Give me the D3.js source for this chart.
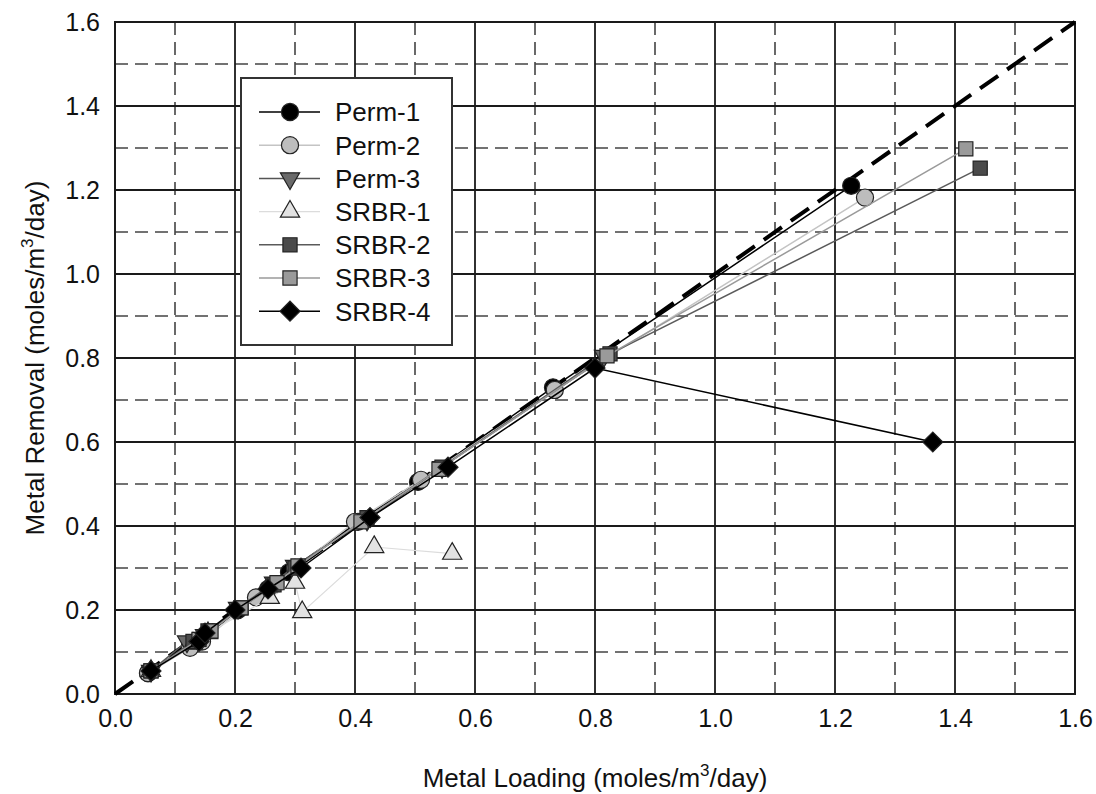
<!DOCTYPE html>
<html>
<head>
<meta charset="utf-8">
<script src="https://cdn.jsdelivr.net/npm/d3@7"></script>
<style>
  body { margin: 0; background: #fff; }
  svg { font-family: "Liberation Sans", Arial, sans-serif; }
</style>
</head>
<body>
<div id="chart"></div>
<script>
// Series data: [metal loading, metal removal]
const perm1 = [[0.055,0.05],[0.125,0.115],[0.145,0.13],[0.205,0.2],[0.255,0.25],[0.29,0.29],[0.405,0.41],[0.505,0.505],[0.73,0.73],[1.227,1.21]];
const perm2 = [[0.055,0.05],[0.125,0.11],[0.145,0.125],[0.235,0.23],[0.26,0.255],[0.3,0.3],[0.4,0.41],[0.51,0.51],[0.733,0.724],[1.25,1.182]];
const perm3 = [[0.06,0.055],[0.12,0.125],[0.15,0.14],[0.205,0.205],[0.265,0.265],[0.3,0.305],[0.42,0.415],[0.545,0.54],[0.815,0.805]];
const srbr1 = [[0.06,0.055],[0.13,0.12],[0.155,0.145],[0.258,0.229],[0.3,0.265],[0.312,0.195],[0.432,0.35],[0.562,0.334]];
const srbr2 = [[0.06,0.055],[0.13,0.125],[0.155,0.15],[0.21,0.205],[0.265,0.26],[0.3,0.3],[0.42,0.42],[0.545,0.54],[0.825,0.81],[1.442,1.252]];
const srbr3 = [[0.06,0.055],[0.14,0.13],[0.16,0.15],[0.21,0.205],[0.27,0.265],[0.305,0.305],[0.41,0.41],[0.54,0.535],[0.82,0.805],[1.418,1.298]];
const srbr4 = [[0.06,0.055],[0.14,0.125],[0.15,0.145],[0.2,0.2],[0.255,0.25],[0.31,0.3],[0.425,0.42],[0.555,0.54],[0.8,0.776],[1.363,0.6]];

const seriesNames = ['Perm-1','Perm-2','Perm-3','SRBR-1','SRBR-2','SRBR-3','SRBR-4'];
const seriesData = [perm1, perm2, perm3, srbr1, srbr2, srbr3, srbr4];
const tickValues = [0, 0.2, 0.4, 0.6, 0.8, 1.0, 1.2, 1.4, 1.6];
const minorValues = [0.1, 0.3, 0.5, 0.7, 0.9, 1.1, 1.3, 1.5];

// marker styles per series
const styles = [
  { sym: d3.symbolCircle, size: 230, fill: '#000', line: '#000', lw: 1.5, rot: 0 },
  { sym: d3.symbolCircle, size: 230, fill: '#bdbdbd', line: '#c4c4c4', lw: 1.5, rot: 0 },
  { sym: d3.symbolTriangle, size: 160, fill: '#6a6a6a', line: '#555', lw: 1.5, rot: 180 },
  { sym: d3.symbolTriangle, size: 160, fill: '#e2e2e2', line: '#dcdcdc', lw: 1.2, rot: 0 },
  { sym: d3.symbolSquare, size: 200, fill: '#4a4a4a', line: '#5a5a5a', lw: 1.5, rot: 0 },
  { sym: d3.symbolSquare, size: 200, fill: '#9a9a9a', line: '#9a9a9a', lw: 1.5, rot: 0 },
  { sym: d3.symbolSquare, size: 200, fill: '#000', line: '#000', lw: 1.5, rot: 45 }
];

const W = 1096, H = 794;
const margin = { top: 22, right: 21, bottom: 100, left: 115 };
const width = W - margin.left - margin.right;
const height = H - margin.top - margin.bottom;
const fontFamily = '"Liberation Sans", Arial, sans-serif';

const svg = d3.select('#chart').append('svg')
  .attr('width', W).attr('height', H);
const g = svg.append('g')
  .attr('transform', `translate(${margin.left},${margin.top})`);

const x = d3.scaleLinear().domain([0, 1.6]).range([0, width]);
const y = d3.scaleLinear().domain([0, 1.6]).range([height, 0]);

// minor dashed gridlines
g.selectAll('.vminor').data(minorValues).enter().append('line')
  .attr('x1', d => x(d)).attr('x2', d => x(d))
  .attr('y1', 0).attr('y2', height)
  .attr('stroke', '#444').attr('stroke-width', 1.6)
  .attr('stroke-dasharray', '13,7');
g.selectAll('.hminor').data(minorValues).enter().append('line')
  .attr('y1', d => y(d)).attr('y2', d => y(d))
  .attr('x1', 0).attr('x2', width)
  .attr('stroke', '#444').attr('stroke-width', 1.6)
  .attr('stroke-dasharray', '13,7');

// major solid gridlines
g.selectAll('.vmajor').data(tickValues).enter().append('line')
  .attr('x1', d => x(d)).attr('x2', d => x(d))
  .attr('y1', 0).attr('y2', height)
  .attr('stroke', '#1a1a1a').attr('stroke-width', 1.8);
g.selectAll('.hmajor').data(tickValues).enter().append('line')
  .attr('y1', d => y(d)).attr('y2', d => y(d))
  .attr('x1', 0).attr('x2', width)
  .attr('stroke', '#1a1a1a').attr('stroke-width', 1.8);

// plot frame
g.append('rect').attr('width', width).attr('height', height)
  .attr('fill', 'none').attr('stroke', '#1a1a1a').attr('stroke-width', 2);

// 1:1 line
g.append('line')
  .attr('x1', x(0)).attr('y1', y(0)).attr('x2', x(1.6)).attr('y2', y(1.6))
  .attr('stroke', '#000').attr('stroke-width', 4)
  .attr('stroke-dasharray', '22,11');

// axes tick labels
const xAxis = d3.axisBottom(x).tickValues(tickValues).tickFormat(d3.format('.1f')).tickSize(0).tickPadding(15);
const yAxis = d3.axisLeft(y).tickValues(tickValues).tickFormat(d3.format('.1f')).tickSize(0).tickPadding(15);
const gx = g.append('g').attr('transform', `translate(0,${height})`).call(xAxis);
const gy = g.append('g').call(yAxis);
[gx, gy].forEach(a => {
  a.select('.domain').remove();
  a.selectAll('text').attr('font-size', 25).attr('fill', '#111')
    .attr('font-family', fontFamily);
});

// series
const line = d3.line().x(d => x(d[0])).y(d => y(d[1]));
seriesData.forEach((data, i) => {
  const st = styles[i];
  const sg = g.append('g');
  sg.append('path').datum(data).attr('d', line)
    .attr('fill', 'none').attr('stroke', st.line).attr('stroke-width', st.lw);
  sg.selectAll('path.pt').data(data).enter().append('path')
    .attr('class', 'pt')
    .attr('d', d3.symbol().type(st.sym).size(st.size))
    .attr('transform', d => `translate(${x(d[0])},${y(d[1])}) rotate(${st.rot})`)
    .attr('fill', st.fill).attr('stroke', '#222').attr('stroke-width', 1.2);
});

// legend
const lg = svg.append('g').attr('transform', 'translate(241,78)');
lg.append('rect').attr('width', 211).attr('height', 267)
  .attr('fill', '#fff').attr('stroke', '#333').attr('stroke-width', 2);
seriesNames.forEach((name, i) => {
  const st = styles[i];
  const cy = 34 + i * 33.2;
  lg.append('line').attr('x1', 18).attr('x2', 79).attr('y1', cy).attr('y2', cy)
    .attr('stroke', st.line).attr('stroke-width', st.lw);
  lg.append('path')
    .attr('d', d3.symbol().type(st.sym).size(st.size))
    .attr('transform', `translate(49,${cy}) rotate(${st.rot})`)
    .attr('fill', st.fill).attr('stroke', '#222').attr('stroke-width', 1.2);
  lg.append('text').attr('x', 94).attr('y', cy).attr('dy', '0.36em')
    .attr('font-size', 26).attr('fill', '#111').text(name);
});

// axis titles
const xt = svg.append('text')
  .attr('x', margin.left + width / 2).attr('y', 787)
  .attr('text-anchor', 'middle').attr('font-size', 26).attr('fill', '#111');
xt.append('tspan').text('Metal Loading (moles/m');
xt.append('tspan').attr('font-size', 17).attr('dy', -11).text('3');
xt.append('tspan').attr('dy', 11).text('/day)');

const yt = svg.append('text')
  .attr('transform', `translate(44,${margin.top + height / 2}) rotate(-90)`)
  .attr('text-anchor', 'middle').attr('font-size', 26).attr('fill', '#111');
yt.append('tspan').text('Metal Removal (moles/m');
yt.append('tspan').attr('font-size', 17).attr('dy', -11).text('3');
yt.append('tspan').attr('dy', 11).text('/day)');
</script>
</body>
</html>
